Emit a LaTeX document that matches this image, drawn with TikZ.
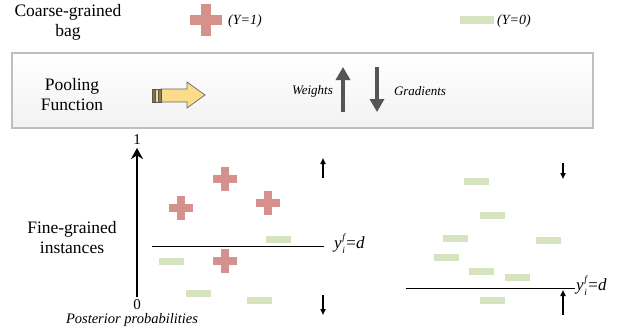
\documentclass[tikz,border=0pt]{standalone}
\usepackage{fontspec}
\setmainfont{Liberation Serif}
\usetikzlibrary{arrows.meta}
\definecolor{pinkc}{HTML}{D7918D}
\definecolor{greenc}{HTML}{D6E3BF}
\definecolor{yellowc}{HTML}{FCDB8A}
\definecolor{darkg}{HTML}{555555}
\newcommand\ythr{\textit{y}\kern0.5pt\raisebox{-5pt}{\fontsize{9.5}{9}\selectfont\shortstack[l]{\textit{f}\\[1.5pt]\textit{i}}}\kern0.5pt=\textit{d}}
\begin{document}
\begin{tikzpicture}[x=1pt,y=-1pt,
  lbl/.style={font=\fontsize{17.5}{20}\selectfont, align=center, inner sep=0pt},
  itl/.style={font=\fontsize{13}{15}\selectfont\itshape, inner sep=0pt},
  num/.style={font=\fontsize{15}{16}\selectfont, inner sep=0pt},
  thrlbl/.style={font=\fontsize{17}{19}\selectfont, inner sep=0pt, anchor=west},
  plusmk/.pic={\fill[pinkc] (-12,-4) rectangle (12,4); \fill[pinkc] (-4,-12) rectangle (4,12);},
  minusmk/.pic={\fill[greenc] (-12.5,-3.5) rectangle (12.5,3.5);},
  bigarrow/.style={darkg, line width=4pt, -{Triangle[length=13pt,width=14pt]}},
  smallarrow/.style={black, line width=1.6pt, -{Triangle[length=6pt,width=5pt]}},
  thr/.style={black, line width=0.9pt}
]
\useasboundingbox (0,0) rectangle (626,335);

% legend
\node[lbl] (coarse) at (68,22) {Coarse-grained\\bag};
\pic[scale=1.35] at (206,20) {plusmk};
\node[itl, font=\fontsize{14}{15}\selectfont\itshape, anchor=west] (y1) at (228,21) {(Y=1)};
\fill[greenc] (460,16) rectangle (494,24);
\node[itl, font=\fontsize{14}{15}\selectfont\itshape, anchor=west] (y0) at (497,21) {(Y=0)};

% pooling box
\node[draw=gray!50, line width=1.5pt, top color=white, bottom color=gray!10,
      minimum width=581pt, minimum height=75pt, inner sep=0pt] (pool) at (302.5,90.5) {};
\node[lbl] (poolfn) at (72,95) {Pooling\\Function};

% yellow arrow
\draw[fill=yellowc, draw=darkg!90, line width=0.7pt]
  (161,89) -- (187,89) -- (187,82) -- (205,95) -- (187,108) -- (187,102) -- (161,102) -- cycle;
\draw[fill=darkg!80!yellowc, draw=darkg, line width=0.6pt] (152,89) rectangle (155.5,102);
\draw[fill=yellowc, draw=darkg, line width=0.6pt] (155.5,89) rectangle (158,102);
\draw[fill=darkg!70!yellowc, draw=darkg, line width=0.6pt] (158,89) rectangle (161,102);

% weights / gradients
\coordinate (wb) at (343,112); \coordinate (wt) at (343,67);
\coordinate (gt) at (377,67); \coordinate (gb) at (377,112);
\draw[bigarrow] (wb) -- (wt);
\draw[bigarrow] (gt) -- (gb);
\node[itl] (wl) at (312.5,91) {Weights};
\node[itl] (gl) at (420,91) {Gradients};

% axis
\coordinate (a0) at (137,297); \coordinate (a1) at (137,148);
\draw[black, line width=2.8pt, -{Stealth[length=11pt,width=12pt]}] (a0) -- (a1);
\node[num] (one) at (137,140) {1};
\node[num] (zero) at (137,305) {0};
\node[itl, font=\fontsize{14.5}{16}\selectfont\itshape] (post) at (132,320) {Posterior probabilities};
\node[lbl] (fine) at (72,238) {Fine-grained\\instances};

% left threshold
\coordinate (l1a) at (152,246); \coordinate (l1b) at (324,246);
\draw[thr] (l1a) -- (l1b);
\node[thrlbl] (t1) at (334,244) {\ythr};
\foreach \p in {(225,179),(181,208),(268,203),(225,261)} \pic at \p {plusmk};
\foreach \p in {(278,239),(171,261),(198,293),(259,300)} \pic at \p {minusmk};
\coordinate (lu0) at (323,178); \coordinate (lu1) at (323,158);
\coordinate (ld0) at (323,295); \coordinate (ld1) at (323,315);
\draw[smallarrow] (lu0) -- (lu1);
\draw[smallarrow] (ld0) -- (ld1);

% right threshold
\coordinate (r1a) at (406,288); \coordinate (r1b) at (575,288);
\draw[thr] (r1a) -- (r1b);
\node[thrlbl] (t2) at (576,286) {\ythr};
\foreach \p in {(476,181),(492,215),(455,238),(446,257),(481,271),(517,277),(548,240),(492,300)} \pic at \p {minusmk};
\coordinate (rd0) at (563,163); \coordinate (rd1) at (563,179);
\coordinate (ru0) at (563,315); \coordinate (ru1) at (563,290);
\draw[smallarrow] (rd0) -- (rd1);
\draw[smallarrow] (ru0) -- (ru1);
\end{tikzpicture}
\end{document}
